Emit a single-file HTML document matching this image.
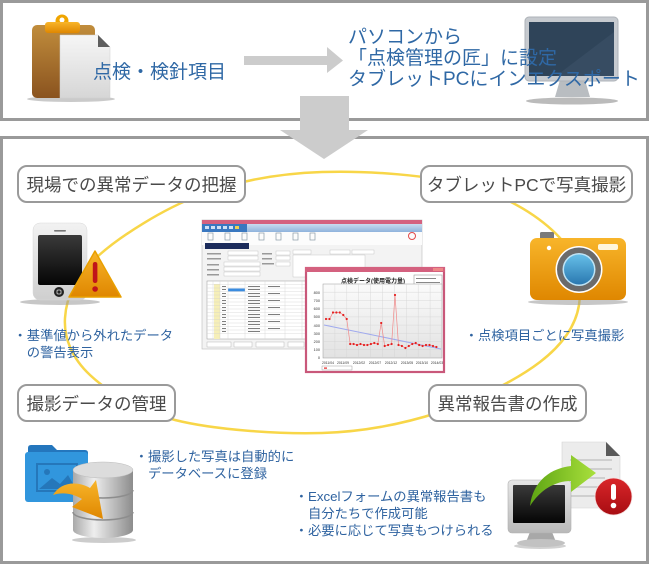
<!DOCTYPE html>
<html><head><meta charset="utf-8">
<style>
html,body{margin:0;padding:0;background:#fff;}
#w{position:relative;width:650px;height:565px;overflow:hidden;background:#fff;font-family:"Liberation Sans","Noto Sans CJK JP",sans-serif;}
.box{position:absolute;box-sizing:border-box;border:3px solid #9a9a9a;background:#fff;}
.t{position:absolute;white-space:nowrap;font-family:"Liberation Sans","Noto Sans CJK JP",sans-serif;}
.big{font-size:19px;line-height:21px;color:#2f68a5;}
.lb{position:absolute;box-sizing:border-box;border:2px solid #9a9a9a;border-radius:10px;background:#fff;display:flex;align-items:center;justify-content:center;font-size:17.5px;color:#4a4a4a;white-space:nowrap;}
.bl{font-size:13.3px;line-height:17px;color:#2f63a0;}
svg{position:absolute;left:0;top:0;}
</style></head><body>
<div id="w">
<div class="box" style="left:0;top:0;width:649px;height:121px;"></div>
<div class="box" style="left:0;top:136px;width:649px;height:428px;"></div>

<svg width="650" height="565" viewBox="0 0 650 565" xmlns="http://www.w3.org/2000/svg">
<defs>
<linearGradient id="brown" x1="0" y1="0" x2="0" y2="1"><stop offset="0" stop-color="#c18d3c"/><stop offset="1" stop-color="#8a531f"/></linearGradient>
<linearGradient id="paper" x1="0" y1="0" x2="0" y2="1"><stop offset="0" stop-color="#f6f6f6"/><stop offset="1" stop-color="#d6d6d6"/></linearGradient>
<linearGradient id="orng" x1="0" y1="0" x2="0" y2="1"><stop offset="0" stop-color="#f8b52a"/><stop offset="1" stop-color="#df8700"/></linearGradient>
<linearGradient id="phone" x1="0" y1="0" x2="0" y2="1"><stop offset="0" stop-color="#f2f2f2"/><stop offset="1" stop-color="#cfcfcf"/></linearGradient>
<linearGradient id="scr" x1="0" y1="0" x2="0" y2="1"><stop offset="0" stop-color="#3a3a3a"/><stop offset="1" stop-color="#050505"/></linearGradient>
<linearGradient id="lens" x1="0" y1="0" x2="0" y2="1"><stop offset="0" stop-color="#66bfe8"/><stop offset="1" stop-color="#2a78b0"/></linearGradient>
<linearGradient id="metal" x1="0" y1="0" x2="1" y2="0"><stop offset="0" stop-color="#a9a9a9"/><stop offset="0.35" stop-color="#eeeeee"/><stop offset="1" stop-color="#8c8c8c"/></linearGradient>
<linearGradient id="green" x1="0" y1="0" x2="1" y2="0"><stop offset="0" stop-color="#5ea513"/><stop offset="1" stop-color="#a9e03c"/></linearGradient>
<linearGradient id="red" x1="0" y1="0" x2="0" y2="1"><stop offset="0" stop-color="#d9262a"/><stop offset="1" stop-color="#a80d12"/></linearGradient>
<linearGradient id="silver" x1="0" y1="0" x2="0" y2="1"><stop offset="0" stop-color="#e6e6e6"/><stop offset="1" stop-color="#b9b9b9"/></linearGradient>
<linearGradient id="plot" x1="0" y1="0" x2="0" y2="1"><stop offset="0" stop-color="#fbfbfb"/><stop offset="1" stop-color="#e2e2e2"/></linearGradient>
<linearGradient id="ribbon" x1="0" y1="0" x2="0" y2="1"><stop offset="0" stop-color="#c9dcf0"/><stop offset="1" stop-color="#8fb3dc"/></linearGradient>
</defs>

<!-- top arrows -->
<polygon points="244,56 327,56 327,47 343,60.5 327,73 327,65 244,65" fill="#cccccc"/>

<!-- clipboard -->
<ellipse cx="71" cy="99" rx="44" ry="3" fill="#8a8a8a" opacity="0.45"/>
<rect x="32" y="25" width="63" height="73" rx="5" fill="url(#brown)"/>
<circle cx="62" cy="21" r="6.5" fill="#f0a500"/>
<circle cx="62" cy="20" r="2.5" fill="#fff"/>
<rect x="45" y="22" width="35" height="11" rx="3" fill="url(#orng)"/>
<path d="M60,35 H98 L110,47 V98 H60 Z" fill="url(#paper)" stroke="#cfcfcf" stroke-width="0.5"/>
<path d="M98,35 L98,47 L110,47 Z" fill="#5e5e5e"/>

<!-- top monitor -->
<ellipse cx="572" cy="101" rx="46" ry="3.5" fill="#777" opacity="0.5"/>
<path d="M560,80 L585,80 L590,97 L555,97 Z" fill="#b9bdc1"/>
<rect x="525" y="17" width="93" height="64" rx="4" fill="#c6cacf" stroke="#aeb3b8" stroke-width="1"/>
<rect x="529" y="22" width="85" height="54" fill="#2f4459"/>
<path d="M556,76 L614,32 L614,76 Z" fill="#374c62"/>

<!-- orbit -->
<path d="M322,172 C367,170.5 430.3,175 470,186 C509.7,197 541.8,218.2 560,238 C578.2,257.8 582.3,284.3 579,305 C575.7,325.7 563.2,344.2 540,362 C516.8,379.8 476.3,400.2 440,412 C403.7,423.8 366.2,431.7 322,433 C277.8,434.3 213.7,429.7 175,420 C136.3,410.3 108.3,392 90,375 C71.7,358 63.8,337.7 65,318 C66.2,298.3 74.5,277.5 97,257 C119.5,236.5 162.5,209.2 200,195 C237.5,180.8 277,173.5 322,172 Z" fill="none" stroke="#f8d648" stroke-width="2.5"/>

<!-- down arrow over borders -->
<polygon points="300,96 349,96 349,130 368,130 324,159 280,130 300,130" fill="#cccccc"/>

<!-- phone + warning -->
<ellipse cx="60" cy="302" rx="40" ry="3" fill="#999" opacity="0.55"/>
<rect x="33" y="223" width="54" height="77" rx="7" fill="url(#phone)" stroke="#d8d8d8" stroke-width="0.5"/>
<rect x="54" y="230" width="12" height="1.6" rx="0.8" fill="#777"/>
<rect x="38" y="235" width="44" height="50" rx="2" fill="url(#scr)"/>
<circle cx="59" cy="292" r="5" fill="#222"/>
<rect x="57" y="290" width="4" height="4" rx="1" fill="none" stroke="#ddd" stroke-width="0.8"/>
<path d="M95,251 L121,297 L69,297 Z" fill="url(#orng)" stroke="#e9a000" stroke-width="1.5" stroke-linejoin="round"/>
<rect x="92.8" y="262" width="4.6" height="21" rx="2.2" fill="#c0141a"/>
<circle cx="95.1" cy="289" r="2.8" fill="#c0141a"/>

<!-- camera -->
<ellipse cx="578" cy="302" rx="50" ry="3" fill="#999" opacity="0.55"/>
<rect x="540" y="232" width="14" height="8" rx="1.5" fill="#7a7a7a"/>
<rect x="530" y="238" width="96" height="62" rx="7" fill="url(#orng)"/>
<circle cx="549" cy="248" r="2.2" fill="#fff"/>
<rect x="598" y="244" width="20" height="6" rx="2" fill="#fff6dc"/>
<circle cx="579" cy="269.5" r="23.5" fill="#fff"/>
<circle cx="579" cy="269.5" r="22" fill="#6b6b6b"/>
<circle cx="579" cy="269.5" r="16.5" fill="#bfe4f5"/>
<circle cx="579" cy="269.5" r="15" fill="url(#lens)"/>

<!-- folder + database -->
<ellipse cx="104" cy="540" rx="32" ry="3" fill="#999" opacity="0.5"/>
<path d="M28,448 Q28,445 31,445 L52,445 L57,450 L85,450 Q88,450 88,453 L88,458 L28,458 Z" fill="#2476bd"/>
<rect x="25" y="452" width="63" height="50" rx="3" fill="#3196dd"/>
<rect x="37" y="464" width="40" height="27" fill="none" stroke="#2577ba" stroke-width="2"/>
<circle cx="47" cy="472" r="3" fill="#2577ba"/>
<path d="M39,489 L52,478 L60,484 L68,475 L76,489 Z" fill="#2577ba"/>
<path d="M73,470 L73,530 A30,8 0 0 0 133,530 L133,470 Z" fill="url(#metal)"/>
<ellipse cx="103" cy="470" rx="30" ry="8" fill="#dcdcdc" stroke="#bbb" stroke-width="0.5"/>
<path d="M73,490 A30,8 0 0 0 133,490" fill="none" stroke="#8d8d8d" stroke-width="1.5"/>
<path d="M73,512 A30,8 0 0 0 133,512" fill="none" stroke="#8d8d8d" stroke-width="1.5"/>
<path d="M53,495 C60,483 76,480 90,488 L96,480 L103,519 L72,507 L82,499 C72,493 62,492 53,495 Z" fill="url(#orng)"/>

<!-- report icon -->
<ellipse cx="540" cy="546" rx="26" ry="3" fill="#999" opacity="0.45"/>
<path d="M562,442 H606 L620,456 V508 H562 Z" fill="#ececec" stroke="#d2d2d2" stroke-width="0.6"/>
<path d="M606,442 L606,456 L620,456 Z" fill="#5a5a5a"/>
<rect x="570" y="459" width="42" height="2" fill="#cfcfcf"/>
<rect x="570" y="468" width="42" height="2" fill="#cfcfcf"/>
<rect x="570" y="477" width="35" height="2" fill="#cfcfcf"/>
<rect x="570" y="486" width="30" height="2" fill="#cfcfcf"/>
<rect x="570" y="495" width="30" height="2" fill="#cfcfcf"/>
<path d="M530,532 H552 L556,542 H526 Z" fill="#a8a8a8"/>
<ellipse cx="541" cy="543" rx="24" ry="4" fill="#c2c2c2"/>
<rect x="508" y="480" width="63" height="53" rx="4" fill="url(#silver)" stroke="#b0b0b0" stroke-width="0.6"/>
<rect x="513" y="485" width="52" height="38" rx="1" fill="url(#scr)"/>
<path d="M530,506 C533,480 552,468 571,466 L571,455 L596,473 L571,492 L571,481 C555,481 540,490 530,506 Z" fill="url(#green)"/>
<circle cx="613.5" cy="496.5" r="18.5" fill="url(#red)" stroke="#f4dede" stroke-width="0.8"/>
<rect x="611" y="484" width="5" height="16" rx="2.4" fill="#fff"/>
<circle cx="613.5" cy="505.5" r="2.8" fill="#fff"/>

<!-- screenshot window 1 -->
<rect x="202" y="220" width="220" height="129" fill="#f3f3f3" stroke="#bdbdbd" stroke-width="0.6"/>
<rect x="202" y="220" width="220" height="4" fill="#d4617f"/>
<rect x="202" y="224" width="220" height="8" fill="url(#ribbon)"/>
<rect x="202" y="224" width="45" height="8" fill="#3a78c0"/>
<rect x="205" y="226" width="4" height="3" fill="#cfe0f5"/><rect x="211" y="226" width="4" height="3" fill="#cfe0f5"/><rect x="217" y="226" width="4" height="3" fill="#cfe0f5"/><rect x="223" y="226" width="4" height="3" fill="#cfe0f5"/><rect x="229" y="226" width="4" height="3" fill="#cfe0f5"/><rect x="235" y="226" width="4" height="3" fill="#f0d050"/>
<rect x="202" y="232" width="220" height="13" fill="#fcfcfc"/>
<g fill="none" stroke="#8a9aa8" stroke-width="0.7">
<rect x="208" y="233" width="5" height="7"/><rect x="225" y="233" width="5" height="7"/><rect x="242" y="233" width="5" height="7"/><rect x="259" y="233" width="5" height="7"/><rect x="276" y="233" width="5" height="7"/><rect x="293" y="233" width="5" height="7"/><rect x="310" y="233" width="5" height="7"/>
</g>
<circle cx="412" cy="236" r="3.5" fill="none" stroke="#e24a4a" stroke-width="1"/>
<rect x="205" y="243" width="44" height="6" fill="#1c2c5c"/>
<g fill="#9a9a9a">
<rect x="207" y="253" width="14" height="1.5"/><rect x="207" y="258" width="14" height="1.5"/><rect x="207" y="264" width="12" height="1.5"/><rect x="207" y="269" width="12" height="1.5"/><rect x="207" y="274" width="12" height="1.5"/>
<rect x="262" y="253" width="10" height="1.5"/><rect x="262" y="258" width="10" height="1.5"/><rect x="262" y="263" width="12" height="1.5"/>
</g>
<g fill="#fff" stroke="#bbb" stroke-width="0.4">
<rect x="228" y="251" width="30" height="4"/><rect x="228" y="256" width="30" height="4"/><rect x="224" y="262" width="36" height="4"/><rect x="224" y="267" width="36" height="4"/><rect x="224" y="272" width="36" height="4"/>
<rect x="276" y="251" width="14" height="4"/><rect x="276" y="256" width="14" height="4"/><rect x="276" y="262" width="14" height="4"/>
<rect x="293" y="255" width="72" height="22"/>
<rect x="293" y="250" width="18" height="4"/><rect x="330" y="250" width="20" height="4"/><rect x="352" y="250" width="22" height="4"/>
</g>
<rect x="207" y="281" width="110" height="58" fill="#fff" stroke="#999" stroke-width="0.5"/>
<rect x="214" y="284" width="6" height="55" fill="#f6efb8"/>
<rect x="228" y="288.5" width="17" height="3" fill="#3a8ce0"/>
<g stroke="#cfcfcf" stroke-width="0.35">
<line x1="207" y1="284.5" x2="317" y2="284.5"/><line x1="207" y1="288" x2="317" y2="288"/><line x1="207" y1="291.5" x2="317" y2="291.5"/><line x1="207" y1="295" x2="317" y2="295"/><line x1="207" y1="298.5" x2="317" y2="298.5"/><line x1="207" y1="302" x2="317" y2="302"/><line x1="207" y1="305.5" x2="317" y2="305.5"/><line x1="207" y1="309" x2="317" y2="309"/><line x1="207" y1="312.5" x2="317" y2="312.5"/><line x1="207" y1="316" x2="317" y2="316"/><line x1="207" y1="319.5" x2="317" y2="319.5"/><line x1="207" y1="323" x2="317" y2="323"/><line x1="207" y1="326.5" x2="317" y2="326.5"/><line x1="207" y1="330" x2="317" y2="330"/><line x1="207" y1="333.5" x2="317" y2="333.5"/>
<line x1="213" y1="281" x2="213" y2="339"/><line x1="220" y1="281" x2="220" y2="339"/><line x1="228" y1="281" x2="228" y2="339"/><line x1="245" y1="281" x2="245" y2="339"/><line x1="265" y1="281" x2="265" y2="339"/><line x1="285" y1="281" x2="285" y2="339"/><line x1="302" y1="281" x2="302" y2="339"/>
</g>
<g fill="#7e7e7e">
<rect x="222" y="286" width="4" height="1"/><rect x="222" y="289" width="4" height="1"/><rect x="222" y="293" width="4" height="1"/><rect x="222" y="296" width="4" height="1"/><rect x="222" y="300" width="4" height="1"/><rect x="222" y="303" width="4" height="1"/><rect x="222" y="307" width="4" height="1"/><rect x="222" y="310" width="4" height="1"/><rect x="222" y="314" width="4" height="1"/><rect x="222" y="317" width="4" height="1"/><rect x="222" y="321" width="4" height="1"/><rect x="222" y="324" width="4" height="1"/><rect x="222" y="328" width="4" height="1"/><rect x="222" y="331" width="4" height="1"/>
<rect x="248" y="286" width="12" height="1"/><rect x="248" y="289" width="12" height="1"/><rect x="248" y="293" width="12" height="1"/><rect x="248" y="296" width="12" height="1"/><rect x="248" y="300" width="12" height="1"/><rect x="248" y="303" width="12" height="1"/><rect x="248" y="307" width="12" height="1"/><rect x="248" y="310" width="12" height="1"/><rect x="248" y="314" width="12" height="1"/><rect x="248" y="317" width="12" height="1"/><rect x="248" y="321" width="12" height="1"/><rect x="248" y="324" width="12" height="1"/><rect x="248" y="328" width="12" height="1"/><rect x="248" y="331" width="12" height="1"/>
<rect x="268" y="286" width="12" height="1"/><rect x="268" y="293" width="12" height="1"/><rect x="268" y="300" width="12" height="1"/><rect x="268" y="307" width="12" height="1"/><rect x="268" y="314" width="12" height="1"/><rect x="268" y="321" width="12" height="1"/><rect x="268" y="328" width="12" height="1"/>
</g>
<g fill="#fff" stroke="#aaa" stroke-width="0.4">
<rect x="207" y="342" width="24" height="5"/><rect x="234" y="342" width="18" height="5"/><rect x="256" y="342" width="28" height="5"/><rect x="288" y="342" width="16" height="5"/>
</g>

<!-- screenshot window 2 (chart) -->
<rect x="306" y="268" width="138" height="104" fill="#fff" stroke="#c9587a" stroke-width="2.2"/>
<rect x="305" y="267" width="140" height="5" fill="#d4617f"/>
<rect x="433" y="268" width="10" height="3" fill="#e88"/>
<text x="373" y="283" font-size="6" font-weight="bold" text-anchor="middle" fill="#222" font-family="Liberation Sans, Noto Sans CJK JP, sans-serif">点検データ(使用電力量)</text>
<rect x="414" y="275" width="28" height="15" fill="#fff" stroke="#888" stroke-width="0.5"/>
<rect x="416" y="278" width="20" height="1" fill="#888"/><rect x="416" y="282" width="24" height="1" fill="#888"/><rect x="416" y="286" width="16" height="1" fill="#888"/>
<rect x="323" y="284" width="119" height="74" fill="url(#plot)" stroke="#999" stroke-width="0.5"/>
<g stroke="#d2d2d2" stroke-width="0.4">
<line x1="334.9" y1="284" x2="334.9" y2="358"/><line x1="346.8" y1="284" x2="346.8" y2="358"/><line x1="358.7" y1="284" x2="358.7" y2="358"/><line x1="370.6" y1="284" x2="370.6" y2="358"/><line x1="382.5" y1="284" x2="382.5" y2="358"/><line x1="394.4" y1="284" x2="394.4" y2="358"/><line x1="406.3" y1="284" x2="406.3" y2="358"/><line x1="418.2" y1="284" x2="418.2" y2="358"/><line x1="430.1" y1="284" x2="430.1" y2="358"/>
<line x1="323" y1="292.2" x2="442" y2="292.2"/><line x1="323" y1="300.4" x2="442" y2="300.4"/><line x1="323" y1="308.7" x2="442" y2="308.7"/><line x1="323" y1="316.9" x2="442" y2="316.9"/><line x1="323" y1="325.1" x2="442" y2="325.1"/><line x1="323" y1="333.3" x2="442" y2="333.3"/><line x1="323" y1="341.6" x2="442" y2="341.6"/><line x1="323" y1="349.8" x2="442" y2="349.8"/>
</g>
<g font-size="3.8" fill="#333" text-anchor="end" font-family="Liberation Sans, sans-serif">
<text x="320" y="294">800</text><text x="320" y="302">700</text><text x="320" y="310">600</text><text x="320" y="318">500</text><text x="320" y="327">400</text><text x="320" y="335">300</text><text x="320" y="343">200</text><text x="320" y="351">100</text><text x="320" y="359">0</text>
</g>
<line x1="324" y1="325" x2="441" y2="349" stroke="#9fa9ee" stroke-width="1"/>
<polyline fill="none" stroke="#f08a8a" stroke-width="0.7" points="326,319 329.5,319 333,312.5 336.4,312.5 339.8,312.5 343.3,315 346.7,319 350.2,344 353.6,344 357,345 360.5,344 364,345 367.4,345 370.9,344 374.3,343 377.8,344 381.2,323 384.7,346 388.1,345 391.6,344 395,295 398.5,345 401.9,346 405.4,348 408.8,346 412.3,344 415.7,343 419.2,345 422.6,346 426,345 429.5,345 433,346 436.4,347"/>
<g fill="#e52222">
<circle cx="326" cy="319" r="1.1"/><circle cx="329.5" cy="319" r="1.1"/><circle cx="333" cy="312.5" r="1.1"/><circle cx="336.4" cy="312.5" r="1.1"/><circle cx="339.8" cy="312.5" r="1.1"/><circle cx="343.3" cy="315" r="1.1"/><circle cx="346.7" cy="319" r="1.1"/><circle cx="350.2" cy="344" r="1.1"/><circle cx="353.6" cy="344" r="1.1"/><circle cx="357" cy="345" r="1.1"/><circle cx="360.5" cy="344" r="1.1"/><circle cx="364" cy="345" r="1.1"/><circle cx="367.4" cy="345" r="1.1"/><circle cx="370.9" cy="344" r="1.1"/><circle cx="374.3" cy="343" r="1.1"/><circle cx="377.8" cy="344" r="1.1"/><circle cx="381.2" cy="323" r="1.1"/><circle cx="384.7" cy="346" r="1.1"/><circle cx="388.1" cy="345" r="1.1"/><circle cx="391.6" cy="344" r="1.1"/><circle cx="395" cy="295" r="1.1"/><circle cx="398.5" cy="345" r="1.1"/><circle cx="401.9" cy="346" r="1.1"/><circle cx="405.4" cy="348" r="1.1"/><circle cx="408.8" cy="346" r="1.1"/><circle cx="412.3" cy="344" r="1.1"/><circle cx="415.7" cy="343" r="1.1"/><circle cx="419.2" cy="345" r="1.1"/><circle cx="422.6" cy="346" r="1.1"/><circle cx="426" cy="345" r="1.1"/><circle cx="429.5" cy="345" r="1.1"/><circle cx="433" cy="346" r="1.1"/><circle cx="436.4" cy="347" r="1.1"/>
</g>
<g font-size="3.4" fill="#333" text-anchor="middle" font-family="Liberation Sans, sans-serif">
<text x="328" y="364">2011/04</text><text x="343" y="364">2011/09</text><text x="359" y="364">2012/02</text><text x="375" y="364">2012/07</text><text x="391" y="364">2012/12</text><text x="407" y="364">2013/05</text><text x="422" y="364">2013/10</text><text x="437" y="364">2014/03</text>
</g>
<rect x="322" y="366" width="30" height="4" fill="#fff" stroke="#888" stroke-width="0.4"/>
<rect x="324" y="367.5" width="3" height="1.2" fill="#e52222"/>
</svg>

<!-- top texts -->
<div class="t big" style="left:93px;top:62px;">点検・検針項目</div>
<div class="t big" style="left:348px;top:27px;">パソコンから<br>「点検管理の匠」に設定<br>タブレットPCにインエクスポート</div>

<!-- labels -->
<div class="lb" style="left:17px;top:165px;width:229px;height:38px;">現場での異常データの把握</div>
<div class="lb" style="left:420px;top:165px;width:213px;height:38px;">タブレットPCで写真撮影</div>
<div class="lb" style="left:17px;top:384px;width:159px;height:38px;">撮影データの管理</div>
<div class="lb" style="left:428px;top:384px;width:159px;height:38px;">異常報告書の作成</div>

<!-- bullet texts -->
<div class="t bl" style="left:13.5px;top:326.5px;">・基準値から外れたデータ<br><span style="padding-left:13.3px">の警告表示</span></div>
<div class="t bl" style="left:464.7px;top:326.5px;">・点検項目ごとに写真撮影</div>
<div class="t bl" style="left:134.7px;top:448px;">・撮影した写真は自動的に<br><span style="padding-left:13.3px">データベースに登録</span></div>
<div class="t bl" style="left:294.7px;top:487.5px;">・Excelフォームの異常報告書も<br><span style="padding-left:13.3px">自分たちで作成可能</span><br>・必要に応じて写真もつけられる</div>
</div>
</body></html>
